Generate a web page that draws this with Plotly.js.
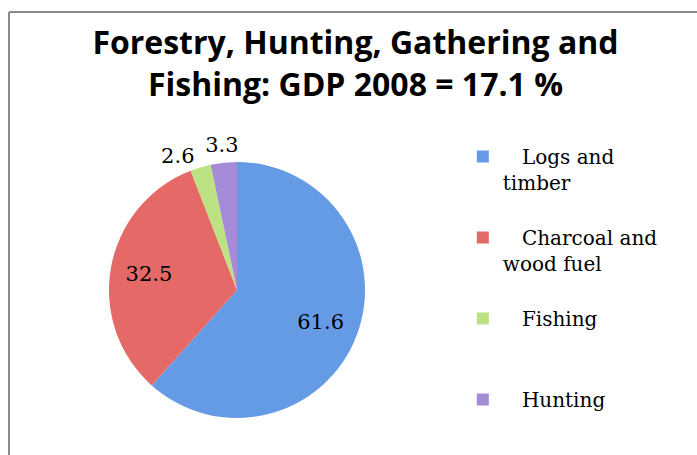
<!DOCTYPE html>
<html>
<head>
<meta charset="utf-8">
<script src="https://cdn.plot.ly/plotly-3.0.1.min.js"></script>
<style>
  html, body { margin: 0; padding: 0; background: #ffffff; }
  #chart { width: 697px; height: 455px; }
</style>
</head>
<body>
<div id="chart"></div>
<script>
// ---- data ----
var categories = ["Logs and timber", "Charcoal and wood fuel", "Fishing", "Hunting"];
var legendNames = [
  "\u00a0\u00a0\u00a0Logs and<br>timber<br>\u00a0",
  "\u00a0\u00a0\u00a0Charcoal and<br>wood fuel<br>\u00a0",
  "\u00a0\u00a0\u00a0Fishing<br>\u00a0<br>\u00a0",
  "\u00a0\u00a0\u00a0Hunting"
];
var values = [61.6, 32.5, 2.6, 3.3];
var sliceColors = ["#659ae5", "#e46967", "#bde283", "#a48cd6"];
var chartTitle = "Forestry, Hunting, Gathering and<br>Fishing: GDP 2008 = 17.1 %";

// which value labels each layer carries (the two small top labels are split over
// the two layers so Plotly does not push one of them away with a leader line)
var baseTextPos = ["none", "none", "outside", "none"];
var labelTextPos = ["inside", "inside", "none", "inside"];

var serif = "DejaVu Serif, Liberation Serif, serif";
var pieDomain = { x: [0.1564, 0.5237], y: [0.0813, 0.644] };
var labelLayerDomain = { x: [0.1090, 0.5710], y: [0.0088, 0.7165] };
var labelFont = { family: serif, size: 21, color: "#000000" };
var clear = "rgba(0,0,0,0)";

var basePie = {
  type: "pie",
  labels: legendNames,
  values: values,
  sort: false,
  direction: "clockwise",
  rotation: 0,
  marker: { colors: sliceColors, line: { width: 0 } },
  texttemplate: "%{value}",
  textposition: baseTextPos,
  insidetextorientation: "horizontal",
  textfont: labelFont,
  insidetextfont: labelFont,
  outsidetextfont: labelFont,
  domain: pieDomain,
  showlegend: true
};

// transparent label layer: same slices, only used to place the value labels
var labelPie = {
  type: "pie",
  labels: legendNames,
  values: values,
  sort: false,
  direction: "clockwise",
  rotation: 0,
  hole: 0.112,
  marker: { colors: [clear, clear, clear, clear], line: { width: 0 } },
  texttemplate: "%{value}",
  textposition: labelTextPos,
  insidetextorientation: "horizontal",
  textfont: labelFont,
  insidetextfont: labelFont,
  outsidetextfont: labelFont,
  domain: labelLayerDomain,
  showlegend: false
};

var layout = {
  width: 697,
  height: 455,
  margin: { l: 0, r: 0, t: 0, b: 0, autoexpand: false },
  paper_bgcolor: "#ffffff",
  plot_bgcolor: "#ffffff",
  uniformtext: { minsize: 21, mode: "show" },
  title: {
    text: chartTitle,
    font: { family: "Open Sans, sans-serif", size: 32, color: "#000000", weight: "bold" },
    xref: "container", yref: "container",
    x: 0.51, xanchor: "center",
    y: 0.881, yanchor: "top"
  },
  showlegend: true,
  legend: {
    x: 0.664, xanchor: "left",
    y: 0.699, yanchor: "top",
    valign: "top",
    font: { family: serif, size: 20, color: "#000000" },
    bgcolor: clear,
    borderwidth: 0,
    traceorder: "normal"
  },
  shapes: [
    { type: "line", xref: "paper", yref: "paper", x0: 0.0129, x1: 0.0129, y0: 0, y1: 0.9736,
      line: { color: "#8a8a8a", width: 2 } },
    { type: "line", xref: "paper", yref: "paper", x0: 0.0129, x1: 1, y0: 0.9736, y1: 0.9736,
      line: { color: "#8a8a8a", width: 2 } }
  ]
};

Plotly.newPlot("chart", [basePie, labelPie], layout, { displayModeBar: false, staticPlot: true });
</script>
</body>
</html>
